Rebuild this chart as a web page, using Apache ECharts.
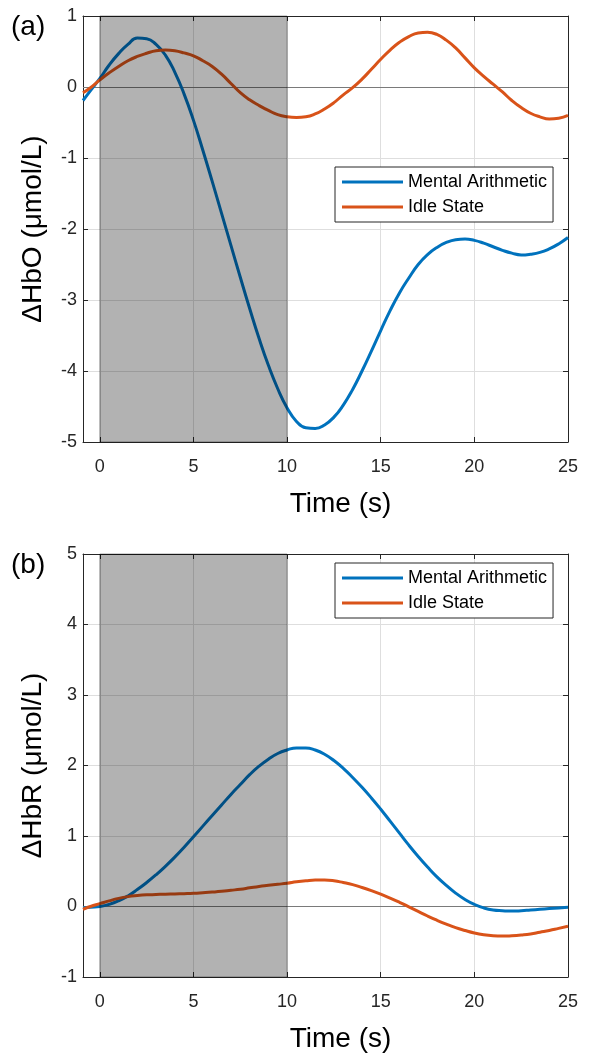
<!DOCTYPE html>
<html><head><meta charset="utf-8">
<script src="https://cdn.jsdelivr.net/npm/echarts@6/dist/echarts.min.js"></script>
<style>html,body{margin:0;padding:0;background:#fff}#c{width:589px;height:1054px}</style>
</head><body><div id="c"></div>
<script>
// ---- data ----
const time = [-0.9, -0.5, 0, 0.5, 1, 1.5, 2, 2.5, 3, 3.5, 4, 4.5, 5, 5.5, 6, 6.5, 7, 7.5, 8, 8.5, 9, 9.5, 10, 10.5, 11, 11.5, 12, 12.5, 13, 13.5, 14, 14.5, 15, 15.5, 16, 16.5, 17, 17.5, 18, 18.5, 19, 19.5, 20, 20.5, 21, 21.5, 22, 22.5, 23, 23.5, 24, 24.5, 25];
const hboMental = [-0.19, -0.05, 0.12, 0.31, 0.47, 0.60, 0.69, 0.68, 0.60, 0.45, 0.21, -0.10, -0.47, -0.89, -1.33, -1.78, -2.23, -2.68, -3.12, -3.54, -3.92, -4.25, -4.52, -4.71, -4.80, -4.81, -4.76, -4.65, -4.48, -4.26, -4.00, -3.72, -3.43, -3.15, -2.90, -2.69, -2.50, -2.36, -2.26, -2.19, -2.15, -2.14, -2.16, -2.20, -2.25, -2.30, -2.34, -2.365, -2.355, -2.33, -2.28, -2.21, -2.12];
const hboIdle = [-0.08, -0.01, 0.1, 0.2, 0.29, 0.37, 0.43, 0.475, 0.51, 0.52, 0.51, 0.48, 0.44, 0.37, 0.29, 0.18, 0.05, -0.08, -0.18, -0.26, -0.33, -0.39, -0.42, -0.43, -0.42, -0.38, -0.31, -0.22, -0.11, -0.01, 0.11, 0.25, 0.39, 0.52, 0.63, 0.71, 0.76, 0.77, 0.74, 0.66, 0.55, 0.41, 0.27, 0.15, 0.04, -0.07, -0.19, -0.29, -0.37, -0.42, -0.45, -0.44, -0.40];
const hbrMental = [-0.02, -0.01, 0.0, 0.03, 0.08, 0.15, 0.24, 0.34, 0.45, 0.57, 0.70, 0.84, 0.99, 1.14, 1.29, 1.44, 1.59, 1.73, 1.87, 1.99, 2.09, 2.17, 2.22, 2.25, 2.25, 2.22, 2.16, 2.07, 1.96, 1.83, 1.69, 1.54, 1.38, 1.21, 1.04, 0.87, 0.71, 0.56, 0.42, 0.30, 0.19, 0.10, 0.03, -0.02, -0.05, -0.06, -0.065, -0.06, -0.05, -0.04, -0.03, -0.02, -0.01];
const hbrIdle = [-0.04, 0.0, 0.04, 0.08, 0.115, 0.14, 0.155, 0.165, 0.17, 0.175, 0.178, 0.182, 0.187, 0.195, 0.204, 0.215, 0.23, 0.245, 0.265, 0.285, 0.30, 0.315, 0.33, 0.35, 0.365, 0.375, 0.375, 0.365, 0.34, 0.31, 0.27, 0.225, 0.175, 0.12, 0.06, -0.005, -0.07, -0.135, -0.195, -0.25, -0.30, -0.34, -0.375, -0.40, -0.415, -0.42, -0.415, -0.405, -0.39, -0.365, -0.34, -0.31, -0.28];
const seriesNames = ['Mental Arithmetic', 'Idle State'];
const xTicks = [0, 5, 10, 15, 20, 25];
const xRange = [-0.9, 25];
const yRangeA = [-5, 1];
const yRangeB = [-1, 5];
const stimulus = [0, 10];
const panelLabels = ['(a)', '(b)'];
const yNames = ['\u0394HbO (\u03bcmol/L)', '\u0394HbR (\u03bcmol/L)'];
const xName = 'Time (s)';

// ---- styling ----
const FONT = "'Liberation Sans', Arial, Helvetica, sans-serif";
const AX = '#262626';
const BLUE = '#0072BD', ORANGE = '#D95319';
const zip = (t, v) => t.map((x, i) => [x, v[i]]);

function mainX(g) {
  return {
    type: 'value', gridIndex: g, min: xRange[0], max: xRange[1], position: 'bottom',
    axisLine: { show: true, onZero: false, lineStyle: { color: AX, width: 1 } },
    axisTick: { show: true, inside: true, length: 5, customValues: xTicks, lineStyle: { color: AX } },
    axisLabel: { show: true, customValues: xTicks, color: AX, fontSize: 18, fontFamily: FONT, margin: 16 },
    splitLine: { show: true, lineStyle: { color: '#dedede', width: 1 } },
    name: xName, nameLocation: 'middle', nameGap: 48,
    nameTextStyle: { fontSize: 28, color: '#000', fontFamily: FONT, padding: [0, 0, 0, 30] }
  };
}
function topX(g) {
  return {
    type: 'value', gridIndex: g, min: xRange[0], max: xRange[1], position: 'top',
    axisLine: { show: true, onZero: false, lineStyle: { color: AX, width: 1 } },
    axisTick: { show: true, inside: true, length: 5, customValues: xTicks, lineStyle: { color: AX } },
    axisLabel: { show: false }, splitLine: { show: false }
  };
}
function mainY(g, r, name) {
  return {
    type: 'value', gridIndex: g, min: r[0], max: r[1], interval: 1, position: 'left',
    axisLine: { show: true, onZero: false, lineStyle: { color: AX, width: 1 } },
    axisTick: { show: true, inside: true, length: 5, lineStyle: { color: AX } },
    axisLabel: { color: AX, fontSize: 18, fontFamily: FONT, margin: 6 },
    splitLine: { show: true, lineStyle: { color: '#dedede', width: 1 } },
    name: name, nameLocation: 'middle', nameGap: 36,
    nameTextStyle: { fontSize: 28, color: '#000', fontFamily: FONT }
  };
}
function rightY(g, r) {
  return {
    type: 'value', gridIndex: g, min: r[0], max: r[1], interval: 1, position: 'right',
    axisLine: { show: true, onZero: false, lineStyle: { color: AX, width: 1 } },
    axisTick: { show: true, inside: true, length: 5, lineStyle: { color: AX } },
    axisLabel: { show: false }, splitLine: { show: false }
  };
}
function panelSeries(xi, yi, mental, idle) {
  return [
    { type: 'line', xAxisIndex: xi, yAxisIndex: yi, data: [], z: 1, silent: true,
      markLine: { silent: true, z: 1, symbol: ['none', 'none'], label: { show: false }, animation: false,
        lineStyle: { color: '#7a7a7a', width: 1, type: 'solid' }, data: [{ yAxis: 0 }] } },
    { type: 'line', name: seriesNames[0], xAxisIndex: xi, yAxisIndex: yi, data: zip(time, mental),
      showSymbol: false, smooth: 0.5, color: BLUE, lineStyle: { color: BLUE, width: 3 }, z: 2 },
    { type: 'line', name: seriesNames[1], xAxisIndex: xi, yAxisIndex: yi, data: zip(time, idle),
      showSymbol: false, smooth: 0.5, color: ORANGE, lineStyle: { color: ORANGE, width: 3 }, z: 2 },
    { type: 'line', xAxisIndex: xi, yAxisIndex: yi, data: [], z: 10, silent: true,
      markArea: { silent: true, z: 10, animation: false,
        itemStyle: { color: 'rgba(0,0,0,0.3)', borderColor: 'rgba(0,0,0,0.35)', borderWidth: 1 },
        data: [[{ xAxis: stimulus[0] }, { xAxis: stimulus[1] }]] } }
  ];
}
function legendAt(top) {
  return {
    orient: 'vertical', left: 335, top: top, data: seriesNames, icon: 'rect',
    itemWidth: 61, itemHeight: 3, itemGap: 7, padding: [6, 6, 6, 7],
    borderColor: AX, borderWidth: 1, backgroundColor: '#fff', borderRadius: 0,
    textStyle: { fontSize: 18, color: '#000', fontFamily: FONT }, selectedMode: false
  };
}

const chart = echarts.init(document.getElementById('c'), null, { renderer: 'canvas' });
chart.setOption({
  animation: false,
  backgroundColor: '#fff',
  grid: [
    { left: 83, top: 16, width: 485, height: 426 },
    { left: 83, top: 554, width: 485, height: 426 }
  ],
  xAxis: [mainX(0), topX(0), mainX(1), topX(1)],
  yAxis: [mainY(0, yRangeA, yNames[0]), rightY(0, yRangeA), mainY(1, yRangeB, yNames[1]), rightY(1, yRangeB)],
  legend: [legendAt(167), legendAt(563)],
  graphic: [
    { type: 'text', left: 11, top: 13, style: { text: panelLabels[0], font: '28px ' + FONT, fill: '#000' } },
    { type: 'text', left: 11, top: 551, style: { text: panelLabels[1], font: '28px ' + FONT, fill: '#000' } }
  ],
  series: [].concat(panelSeries(0, 0, hboMental, hboIdle), panelSeries(2, 2, hbrMental, hbrIdle))
});
</script>
</body></html>
